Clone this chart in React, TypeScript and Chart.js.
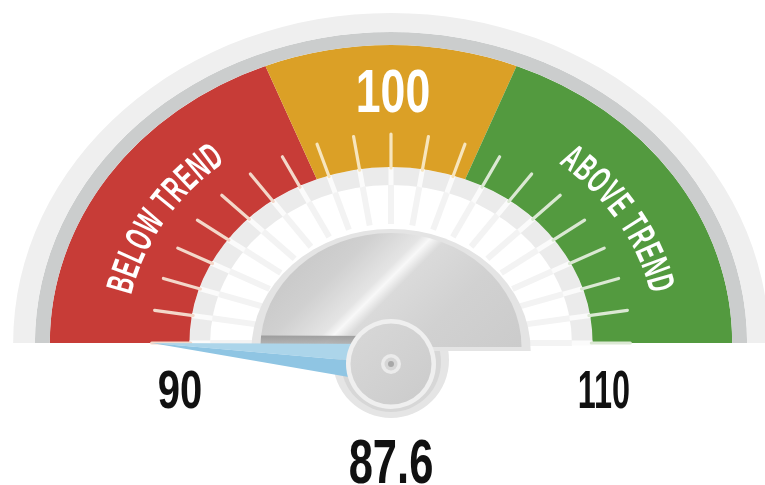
import React, { useEffect, useRef } from 'react';
import { Chart, registerables } from 'chart.js';

Chart.register(...registerables);

// ---------------- data ----------------
const bandNames = ['BELOW TREND', '100', 'ABOVE TREND'];
const bandStarts = [90, 97.6, 102.4];
const bandEnds = [97.6, 102.4, 110];
const bandColors = ['#c73c37', '#dba026', '#539a3f'];
const tickColors = ['#f3d8ca', '#f7e5bd', '#dbe8d3'];
const tickValues = [90, 91, 92, 93, 94, 95, 96, 97, 98, 99, 100, 101, 102, 103, 104, 105, 106, 107, 108, 109, 110];
const gaugeMin = 90;
const gaugeMax = 110;
const gaugeValue = 87.6;
const minLabel = '90';
const maxLabel = '110';
const valueLabel = '87.6';

// ---------------- drawing helpers ----------------
const SX = 1.145; // horizontal stretch of the dial (elliptical gauge)
const FONT = '"Liberation Sans", Arial, sans-serif';

function geom(chart: any) {
  const band: any = chart.getDatasetMeta(2).data[0];
  const gray: any = chart.getDatasetMeta(3).data[0];
  const face: any = chart.getDatasetMeta(4).data[0];
  return {
    cx: band.x,
    cy: band.y,
    rOut: band.outerRadius,
    rIn: band.innerRadius,
    rGray: gray.innerRadius,
    rFace: face.innerRadius,
  };
}

function angleOf(v: number) {
  const c = Math.max(gaugeMin, Math.min(gaugeMax, v));
  return Math.PI + ((c - gaugeMin) / (gaugeMax - gaugeMin)) * Math.PI;
}

function pt(cx: number, cy: number, r: number, t: number): [number, number] {
  return [cx + SX * r * Math.cos(t), cy + r * Math.sin(t)];
}

function condensedText(ctx: CanvasRenderingContext2D, text: string, x: number, y: number, size: number, sx: number, color: string) {
  ctx.save();
  ctx.translate(x, y);
  ctx.scale(sx, 1);
  ctx.font = `bold ${size}px ${FONT}`;
  ctx.textAlign = 'center';
  ctx.textBaseline = 'alphabetic';
  ctx.fillStyle = color;
  ctx.fillText(text, 0, 0);
  ctx.restore();
}

function arcText(ctx: CanvasRenderingContext2D, text: string, cx: number, cy: number, r: number, thetaC: number, size: number, sx: number) {
  ctx.save();
  ctx.font = `bold ${size}px ${FONT}`;
  ctx.textAlign = 'center';
  ctx.textBaseline = 'alphabetic';
  ctx.fillStyle = '#ffffff';
  const chars = Array.from(text);
  const spacing = 0.8;
  const widths = chars.map((ch) => ctx.measureText(ch).width * sx + spacing);
  const total = widths.reduce((a, b) => a + b, 0);
  const ds = (t: number) => r * Math.sqrt((SX * Math.sin(t)) ** 2 + Math.cos(t) ** 2);
  const adv = (t: number, len: number) => {
    const d = len >= 0 ? 0.0005 : -0.0005;
    let rem = Math.abs(len);
    while (rem > 0) {
      rem -= ds(t) * Math.abs(d);
      t += d;
    }
    return t;
  };
  let t = adv(thetaC, -total / 2);
  chars.forEach((ch, i) => {
    const tm = adv(t, widths[i] / 2);
    const [x, y] = pt(cx, cy, r, tm);
    const rot = Math.atan2(Math.cos(tm), -SX * Math.sin(tm));
    ctx.save();
    ctx.translate(x, y);
    ctx.rotate(rot);
    ctx.scale(sx, 1);
    ctx.fillText(ch, 0, 0);
    ctx.restore();
    t = adv(t, widths[i]);
  });
  ctx.restore();
}

function halfEllipse(ctx: CanvasRenderingContext2D, cx: number, cy: number, r: number) {
  ctx.beginPath();
  ctx.ellipse(cx, cy, r * SX, r, 0, Math.PI, 2 * Math.PI);
  ctx.closePath();
}

function circle(ctx: CanvasRenderingContext2D, x: number, y: number, r: number, fill: string | CanvasGradient) {
  ctx.beginPath();
  ctx.arc(x, y, r, 0, Math.PI * 2);
  ctx.fillStyle = fill;
  ctx.fill();
}

function drawOverlay(chart: any) {
  const ctx: CanvasRenderingContext2D = chart.ctx;
  const { cx, cy, rIn, rGray, rFace } = geom(chart);
  ctx.save();
  ctx.lineCap = 'butt';

  // stripes through the inner bands
  tickValues.forEach((v) => {
    const t = angleOf(v);
    let [x1, y1] = pt(cx, cy, rFace + 2, t);
    let [x2, y2] = pt(cx, cy, rGray, t);
    ctx.strokeStyle = '#f3f3f3';
    ctx.lineWidth = 6;
    ctx.beginPath();
    ctx.moveTo(x1, y1);
    ctx.lineTo(x2, y2);
    ctx.stroke();
    [x1, y1] = pt(cx, cy, rGray, t);
    [x2, y2] = pt(cx, cy, rIn, t);
    ctx.strokeStyle = '#fbfbfb';
    ctx.lineWidth = 5;
    ctx.beginPath();
    ctx.moveTo(x1, y1);
    ctx.lineTo(x2, y2);
    ctx.stroke();
  });

  // coloured ticks
  ctx.lineCap = 'round';
  tickValues.forEach((v) => {
    const t = angleOf(v);
    let bi = bandStarts.findIndex((s, i) => v >= s && v <= bandEnds[i]);
    if (bi < 0) bi = 0;
    const [x1, y1] = pt(cx, cy, rIn - 1, t);
    const [x2, y2] = pt(cx, cy, rIn + 33, t);
    ctx.strokeStyle = tickColors[bi];
    ctx.lineWidth = 3.2;
    ctx.beginPath();
    ctx.moveTo(x1, y1);
    ctx.lineTo(x2, y2);
    ctx.stroke();
  });
  ctx.restore();

  // band titles
  const rText = rIn + 56;
  arcText(ctx, bandNames[0], cx, cy, rText, (212 * Math.PI) / 180, 38, 0.56);
  arcText(ctx, bandNames[2], cx, cy, rText, (328 * Math.PI) / 180, 38, 0.56);
  condensedText(ctx, bandNames[1], cx + 2, cy - rIn - 55, 62, 0.72, '#ffffff');

  // backdrop disc under the hub
  const hx = cx;
  const hy = cy + 21;
  circle(ctx, cx, cy + 17, 58, '#e5e5e5');
  circle(ctx, cx, cy + 19, 50, '#d7d7d7');

  // metal plate
  ctx.save();
  halfEllipse(ctx, cx, cy + 8, 122);
  ctx.fillStyle = '#e4e4e4';
  ctx.fill();
  halfEllipse(ctx, cx, cy + 4, 114);
  const g = ctx.createLinearGradient(cx - 110, cy - 160, cx + 95, cy + 45);
  g.addColorStop(0, '#bcbcbc');
  g.addColorStop(0.35, '#d0d0d0');
  g.addColorStop(0.47, '#e4e4e4');
  g.addColorStop(0.5, '#f8f8f8');
  g.addColorStop(0.54, '#dadada');
  g.addColorStop(0.72, '#d1d1d1');
  g.addColorStop(1, '#cbcbcb');
  ctx.fillStyle = g;
  ctx.fill();
  ctx.restore();

  // needle
  const tv = angleOf(gaugeValue);
  const [tx, ty] = pt(cx, cy, rIn + 33, tv);
  const dx = tx - hx;
  const dy = ty - hy;
  const len = Math.hypot(dx, dy);
  const ux = dx / len;
  const uy = dy / len;
  const px = -uy;
  const py = ux;
  const hw = 20;
  const upX = hx - px * hw;
  const upY = hy - py * hw;
  const loX = hx + px * hw;
  const loY = hy + py * hw;
  const topX = upY < loY ? upX : loX;
  const topY = upY < loY ? upY : loY;
  const botX = upY < loY ? loX : upX;
  const botY = upY < loY ? loY : upY;

  // shadow of needle on the plate
  ctx.save();
  halfEllipse(ctx, cx, cy + 4, 114);
  ctx.clip();
  const sg = ctx.createLinearGradient(0, topY - 9, 0, topY);
  sg.addColorStop(0, 'rgba(150,150,150,0.9)');
  sg.addColorStop(1, 'rgba(175,175,175,0.9)');
  ctx.fillStyle = sg;
  ctx.beginPath();
  ctx.moveTo(tx, ty - 8);
  ctx.lineTo(topX, topY - 8);
  ctx.lineTo(topX, topY + 2);
  ctx.lineTo(tx, ty + 2);
  ctx.closePath();
  ctx.fill();
  ctx.restore();

  ctx.save();
  ctx.beginPath();
  ctx.moveTo(tx, ty);
  ctx.lineTo(topX, topY);
  ctx.lineTo(hx, hy);
  ctx.closePath();
  ctx.fillStyle = '#acd5ea';
  ctx.fill();
  ctx.beginPath();
  ctx.moveTo(tx, ty);
  ctx.lineTo(hx, hy);
  ctx.lineTo(botX, botY);
  ctx.closePath();
  ctx.fillStyle = '#8fc5e3';
  ctx.fill();
  ctx.restore();

  // hub
  circle(ctx, hx, hy, 45, '#efefef');
  const hg = ctx.createLinearGradient(hx - 40, hy - 40, hx + 40, hy + 40);
  hg.addColorStop(0, '#d8d8d8');
  hg.addColorStop(1, '#cbcbcb');
  circle(ctx, hx, hy, 40.5, hg);
  circle(ctx, hx, hy, 10, '#ebebeb');
  circle(ctx, hx, hy, 6.5, '#d6d6d6');
  circle(ctx, hx, hy, 3, '#a8a8a8');

  // scale labels
  condensedText(ctx, minLabel, cx - 211, cy + 65, 54, 0.74, '#111111');
  condensedText(ctx, maxLabel, cx + 213, cy + 65, 54, 0.6, '#111111');
  condensedText(ctx, valueLabel, cx, cy + 140, 63, 0.69, '#111111');
}

const gaugePlugin = {
  id: 'ellipticGauge',
  beforeDatasetsDraw(chart: any) {
    const { cx, cy } = geom(chart);
    const ctx = chart.ctx;
    ctx.save();
    ctx.translate(cx, cy);
    ctx.scale(SX, 1);
    ctx.translate(-cx, -cy);
  },
  afterDatasetsDraw(chart: any) {
    chart.ctx.restore();
    drawOverlay(chart);
  },
};

export default function App() {
  const ref = useRef<HTMLCanvasElement | null>(null);

  useEffect(() => {
    document.body.style.margin = '0';
    const canvas = ref.current;
    if (!canvas) return;
    const span = gaugeMax - gaugeMin;
    const bandValues = bandEnds.map((e, i) => e - bandStarts[i]);
    const chart = new Chart(canvas, {
      type: 'doughnut',
      data: {
        labels: bandNames,
        datasets: [
          { label: 'rim', data: [span], backgroundColor: ['#efefef'], borderWidth: 0, weight: 19 } as any,
          { label: 'rim2', data: [span], backgroundColor: ['#cbcdcd'], borderWidth: 0, weight: 13 } as any,
          { label: 'bands', data: bandValues, backgroundColor: bandColors, borderWidth: 0, weight: 122 } as any,
          { label: 'inner', data: [span], backgroundColor: ['#ebebeb'], borderWidth: 0, weight: 18 } as any,
          { label: 'face', data: [span], backgroundColor: ['#ffffff'], borderWidth: 0, weight: 41 } as any,
        ],
      },
      options: {
        responsive: false,
        animation: false,
        events: [],
        circumference: 180,
        rotation: -90,
        cutout: '35.4545%',
        layout: { padding: { top: 13, bottom: 142, left: 61, right: 44 } },
        plugins: { legend: { display: false }, tooltip: { enabled: false } },
      } as any,
      plugins: [gaugePlugin as any],
    });
    return () => chart.destroy();
  }, []);

  return (
    <div style={{ width: 765, height: 485, background: '#ffffff' }}>
      <canvas ref={ref} width={765} height={485} style={{ display: 'block' }} />
    </div>
  );
}
